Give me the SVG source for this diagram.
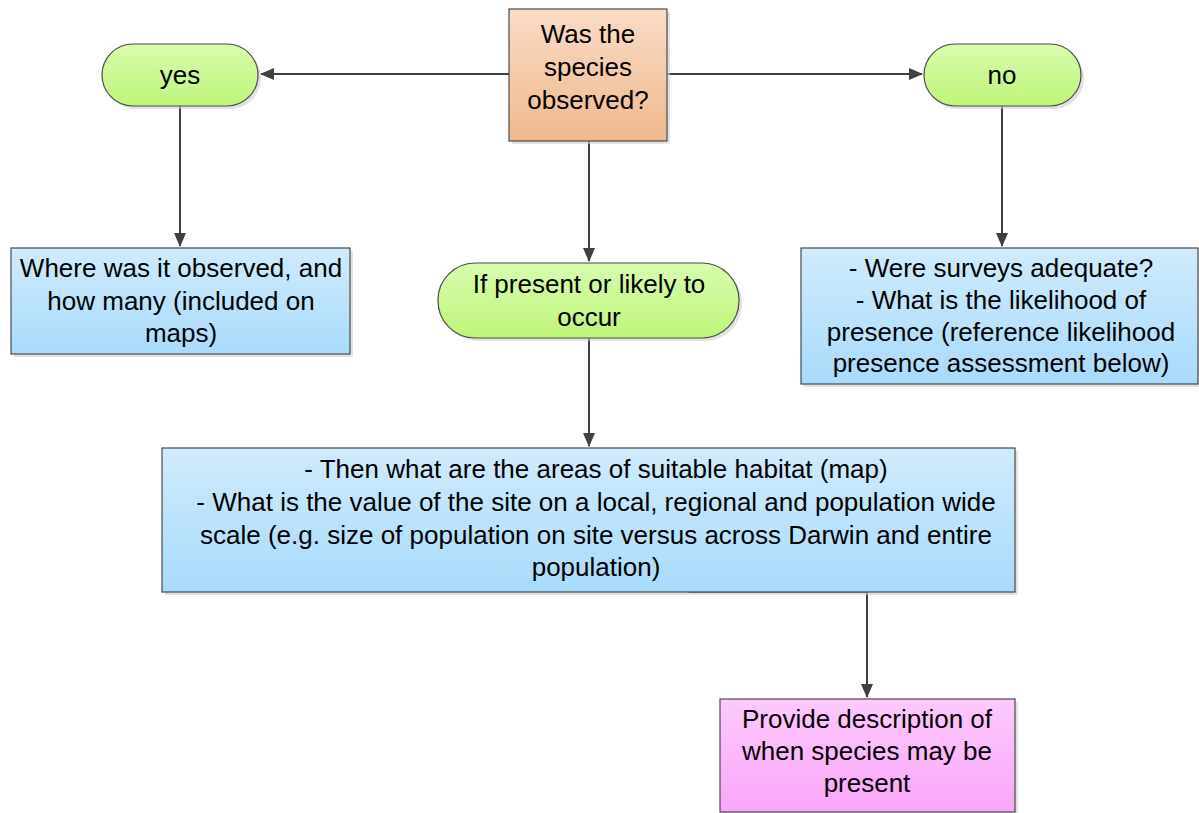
<svg xmlns="http://www.w3.org/2000/svg" width="1199" height="813" viewBox="0 0 1199 813">
<style>
text{font-family:"Liberation Sans",Arial,sans-serif;font-size:26px;fill:#000;text-anchor:middle}
.n{stroke:#4a4a4a;stroke-width:1.2}
.c{stroke:#404040;stroke-width:2;fill:none}
.sh{fill:#cfcfcf;opacity:0.6}
</style>
<defs>
<linearGradient id="gO" x1="0" y1="0" x2="0" y2="1"><stop offset="0" stop-color="#fadcc6"/><stop offset="1" stop-color="#efb98d"/></linearGradient>
<linearGradient id="gG" x1="0" y1="0" x2="0" y2="1"><stop offset="0" stop-color="#d8fcae"/><stop offset="1" stop-color="#bff57a"/></linearGradient>
<linearGradient id="gB" x1="0" y1="0" x2="0" y2="1"><stop offset="0" stop-color="#d0ebfc"/><stop offset="1" stop-color="#a8dbfb"/></linearGradient>
<linearGradient id="gP" x1="0" y1="0" x2="0" y2="1"><stop offset="0" stop-color="#fdcafd"/><stop offset="1" stop-color="#f9a6f9"/></linearGradient>
<marker id="ar" markerWidth="14" markerHeight="12" refX="13" refY="6" orient="auto" markerUnits="userSpaceOnUse"><path d="M0,0 L14,6 L0,12 Z" fill="#404040"/></marker>
</defs>
<g id="connectors">
<path class="c" d="M509,74 H261" marker-end="url(#ar)"/>
<path class="c" d="M667,74 H922" marker-end="url(#ar)"/>
<path class="c" d="M180,106 V246" marker-end="url(#ar)"/>
<path class="c" d="M1002,106 V246" marker-end="url(#ar)"/>
<path class="c" d="M589,141 V261" marker-end="url(#ar)"/>
<path class="c" d="M589,338 V446" marker-end="url(#ar)"/>
<path class="c" d="M689,592 H867 V697" marker-end="url(#ar)"/>
</g>
<g id="decision">
<rect class="sh" x="512" y="12" width="158" height="132"/>
<rect class="n" x="509" y="9" width="158" height="132" fill="url(#gO)"/>
<text x="588" y="43">Was the</text>
<text x="588" y="76">species</text>
<text x="588" y="109">observed?</text>
</g>
<g id="yes">
<rect class="sh" x="105" y="47" width="156" height="62" rx="31"/>
<rect class="n" x="102" y="44" width="156" height="62" rx="31" fill="url(#gG)"/>
<text x="180" y="84">yes</text>
</g>
<g id="no">
<rect class="sh" x="927" y="47" width="157" height="62" rx="31"/>
<rect class="n" x="924" y="44" width="157" height="62" rx="31" fill="url(#gG)"/>
<text x="1002" y="84">no</text>
</g>
<g id="where">
<rect class="sh" x="14" y="251" width="339" height="106"/>
<rect class="n" x="11" y="248" width="339" height="106" fill="url(#gB)"/>
<text x="181" y="277">Where was it observed, and</text>
<text x="181" y="310">how many (included on</text>
<text x="181" y="342">maps)</text>
</g>
<g id="present">
<rect class="sh" x="441" y="266" width="301" height="75" rx="37"/>
<rect class="n" x="438" y="263" width="301" height="75" rx="37" fill="url(#gG)"/>
<text x="589" y="293">If present or likely to</text>
<text x="589" y="326">occur</text>
</g>
<g id="surveys">
<rect class="sh" x="804" y="251" width="398" height="136"/>
<rect class="n" x="801" y="248" width="397" height="136" fill="url(#gB)"/>
<text x="1001" y="277">- Were surveys adequate?</text>
<text x="1001" y="309">- What is the likelihood of</text>
<text x="1001" y="341">presence (reference likelihood</text>
<text x="1001" y="372">presence assessment below)</text>
</g>
<g id="habitat">
<rect class="sh" x="165" y="451" width="853" height="144"/>
<rect class="n" x="162" y="448" width="853" height="144" fill="url(#gB)"/>
<text x="596" y="478">- Then what are the areas of suitable habitat (map)</text>
<text x="596" y="511">- What is the value of the site on a local, regional and population wide</text>
<text x="596" y="544">scale (e.g. size of population on site versus across Darwin and entire</text>
<text x="596" y="576">population)</text>
</g>
<g id="describe">
<rect class="sh" x="723" y="702" width="295" height="113"/>
<rect class="n" x="720" y="699" width="295" height="113" fill="url(#gP)"/>
<text x="867" y="728">Provide description of</text>
<text x="867" y="760">when species may be</text>
<text x="867" y="792">present</text>
</g>
</svg>
